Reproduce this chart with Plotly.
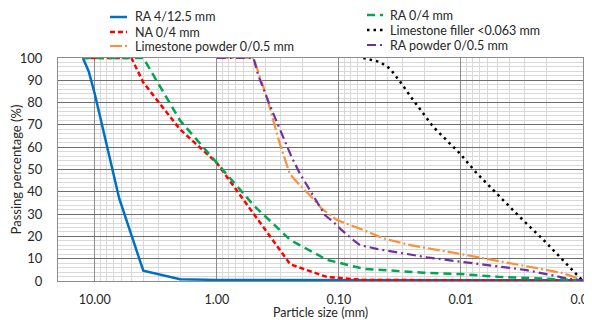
import plotly.graph_objects as go

# ---------------- data (particle size in mm, passing in %) ----------------
ra_coarse_size = [12.5, 11.2, 10, 6.3, 4, 2, 1, 0.5, 0.25, 0.125, 0.063, 0.001]
ra_coarse_pass = [100, 94, 84, 37, 4.6, 0.8, 0.5, 0.5, 0.4, 0.4, 0.3, 0.3]

na_fine_size = [12.5, 5, 4, 2, 1, 0.5, 0.25, 0.125, 0.063, 0.001]
na_fine_pass = [100, 100, 89, 68, 53, 30, 7.5, 1.8, 0.5, 0]

ls_powder_size = [1, 0.5, 0.39, 0.305, 0.252, 0.209, 0.168, 0.139, 0.104, 0.063,
                  0.043, 0.026, 0.01, 0.0054, 0.0029, 0.0015, 0.001]
ls_powder_pass = [100, 100, 82.6, 61.7, 48, 43, 37.8, 32.6, 27.4, 22.9,
                  19.1, 16.1, 12.1, 9.4, 6.4, 3.7, 0.5]

ra_fine_size = [12.5, 4, 2, 1, 0.5, 0.25, 0.125, 0.063, 0.04, 0.02, 0.01, 0.005, 0.002, 0.001]
ra_fine_pass = [100, 100, 72, 53, 34, 18.4, 9.5, 5.5, 4.8, 3.7, 3.1, 1.9, 1.0, 0.3]

ls_filler_size = [0.063, 0.052, 0.046, 0.038, 0.0316, 0.0246, 0.0169, 0.0102, 0.0074,
                  0.0051, 0.0033, 0.0021, 0.00145, 0.001]
ls_filler_pass = [100, 98.8, 98.2, 95.2, 89.5, 81.2, 69.2, 57.2, 48.3,
                  39.3, 28.8, 18.4, 9.4, 0]

ra_powder_size = [1, 0.5, 0.458, 0.404, 0.368, 0.315, 0.269, 0.244, 0.209, 0.163, 0.130,
                  0.108, 0.095, 0.079, 0.067, 0.048, 0.036, 0.019, 0.0102, 0.0054,
                  0.0029, 0.00136, 0.001]
ra_powder_pass = [100, 100, 92.4, 84.2, 78.9, 70, 61, 55.7, 48.3, 38.6, 29.6,
                  25.9, 22.9, 19.1, 16.1, 14.3, 13.2, 10.6, 8.7, 6.7,
                  4.9, 1.2, 0.3]

series_names = ["RA 4/12.5 mm", "NA 0/4 mm", "Limestone powder 0/0.5 mm",
                "RA 0/4 mm", "Limestone filler <0.063 mm", "RA powder 0/0.5 mm"]

x_tick_vals = [10, 1, 0.1, 0.01, 0.001]
x_tick_text = ["10.00", "1.00", "0.10", "0.01", "0.00"]
y_tick_vals = [0, 10, 20, 30, 40, 50, 60, 70, 80, 90, 100]

FONT = "Lato, 'Noto Sans', sans-serif"
TXT = "#262626"

# the page body adds an 8px offset, so the figure is 8px smaller than the window
W, H = 584, 312
ML, MR, MT, MB = 50, 9, 50, 39
PW, PH = W - ML - MR, H - MT - MB

styles = [
    dict(color="#0070C0", width=2.5, dash="solid"),
    dict(color="#FF0000", width=2.5, dash="5px,3px"),
    dict(color="#F7913D", width=2.2, dash="12px,3px,2px,3px"),
    dict(color="#00A651", width=2.5, dash="8px,5px"),
    dict(color="#000000", width=2.5, dash="2.5px,4px"),
    dict(color="#7030A0", width=2.2, dash="9px,4px,2px,4px"),
]
xs_all = [ra_coarse_size, na_fine_size, ls_powder_size, ra_fine_size, ls_filler_size, ra_powder_size]
ys_all = [ra_coarse_pass, na_fine_pass, ls_powder_pass, ra_fine_pass, ls_filler_pass, ra_powder_pass]

fig = go.Figure()
for name, xs, ys, st in zip(series_names, xs_all, ys_all, styles):
    fig.add_trace(go.Scatter(x=xs, y=ys, mode="lines", name=name,
                             line=st, showlegend=False, cliponaxis=False))

# legend drawn as two columns of key lines + labels (positions in figure pixels)
def px_x(p):
    return (p - ML) / PW

def px_y(p):
    return (H - MB - p) / PH

legend_cols = [(102, 119, 125, [9, 24, 38]), (359, 375, 380, [7, 22, 37])]
shapes, annotations = [], []
for ci, (x0, x1, xt, rows) in enumerate(legend_cols):
    for ri, yc in enumerate(rows):
        i = ci * 3 + ri
        st = styles[i]
        shapes.append(dict(type="line", xref="paper", yref="paper",
                           x0=px_x(x0), x1=px_x(x1), y0=px_y(yc), y1=px_y(yc),
                           line=dict(color=st["color"], width=st["width"], dash=st["dash"])))
        annotations.append(dict(text=series_names[i], xref="paper", yref="paper",
                                x=px_x(xt), y=px_y(yc), xanchor="left", yanchor="middle",
                                showarrow=False, font=dict(size=12.5, color=TXT, family=FONT)))

# minor gridline positions (2..9 within each decade)
minor_x = []
for dec in [0.001, 0.01, 0.1, 1, 10]:
    for m in range(2, 10):
        v = m * dec
        if v <= 20:
            minor_x.append(v)

fig.update_layout(
    width=W, height=H,
    margin=dict(l=ML, r=MR, t=MT, b=MB),
    paper_bgcolor="white", plot_bgcolor="white",
    font=dict(family=FONT, size=13, color=TXT),
    showlegend=False,
    shapes=shapes, annotations=annotations,
)

fig.update_xaxes(
    type="log", range=[1.30103, -3.001], automargin=False,
    tickmode="array", tickvals=x_tick_vals, ticktext=x_tick_text,
    ticklabeloverflow="allow",
    showgrid=True, gridcolor="#8c8c8c", gridwidth=1,
    minor=dict(tickmode="array", tickvals=minor_x, showgrid=True,
               gridcolor="#d9d9d9", gridwidth=1),
    showline=True, linecolor="#8c8c8c", linewidth=1, mirror=True,
    ticks="", ticklabelstandoff=7,
    tickfont=dict(size=12.5, color=TXT),
    title=dict(text="Particle size (mm)", font=dict(size=12.5, color=TXT), standoff=1),
    zeroline=False,
)
fig.update_yaxes(
    range=[0, 100], tickmode="array", tickvals=y_tick_vals, automargin=False,
    showgrid=True, gridcolor="#6e6e6e", gridwidth=1,
    minor=dict(dtick=2, showgrid=True, gridcolor="#d9d9d9", gridwidth=1),
    showline=True, linecolor="#8c8c8c", linewidth=1, mirror=True,
    ticks="", ticklabelstandoff=12,
    tickfont=dict(size=13, color=TXT),
    title=dict(text="Passing percentage (%)", font=dict(size=13, color=TXT), standoff=6),
    zeroline=False,
)

fig.write_html("out.html")
